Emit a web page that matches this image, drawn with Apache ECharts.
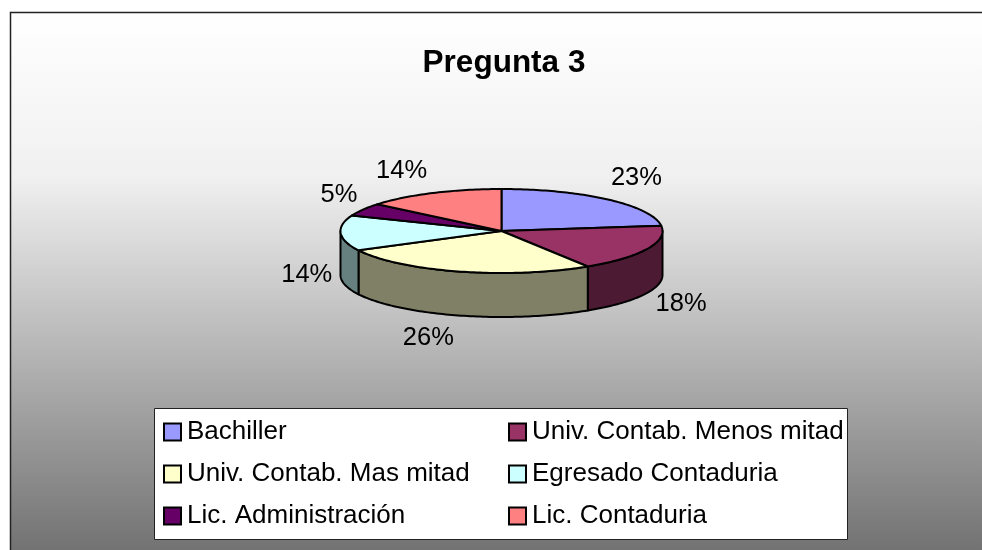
<!DOCTYPE html>
<html><head><meta charset="utf-8">
<style>html,body{margin:0;padding:0;background:#fff}#c{width:982px;height:550px}</style>
<script src="https://cdn.jsdelivr.net/npm/echarts@6/dist/echarts.min.js"></script>
</head><body><div id="c"></div>
<script>
const categories = ['Bachiller','Univ. Contab. Menos mitad','Univ. Contab. Mas mitad','Egresado Contaduria','Lic. Administración','Lic. Contaduria'];
const shares = [23,18,26.4,13.6,5,14];
const topColors = ['#9999FF','#993366','#FFFFCC','#CCFFFF','#660066','#FF8080'];
const wallColors = ['#4D4D80','#4D1A33','#808066','#668080','#330033','#804040'];

// 3D pie layout
const CX = 501.5, CY = 231, RX = 161, RY = 42, DEPTH = 44;
const LABEL_RX = 204, LABEL_RY = 72;
const labelNudge = [[0,1],[-5,-2],[-20,-7],[9,-4],[13,1],[-13,5]];
const FONT = '"Liberation Sans", Arial, sans-serif';

const total = shares.reduce((a,b)=>a+b,0);
const bounds = [0];
shares.forEach(v => bounds.push(bounds[bounds.length-1] + v/total*Math.PI*2));

function pt(t, dy){ return [CX + RX*Math.sin(t), CY - RY*Math.cos(t) + (dy||0)]; }
function arc(a, b, dy){
  const n = Math.max(2, Math.ceil(Math.abs(b-a)/0.02)), out = [];
  for(let i=0;i<=n;i++) out.push(pt(a+(b-a)*i/n, dy));
  return out;
}

function renderSlice(i){
  return function(params, api){
    const a = bounds[i], b = bounds[i+1], children = [];
    const wa = Math.max(a, Math.PI/2), wb = Math.min(b, Math.PI*1.5);
    const style = {stroke:'#000', lineWidth:2, lineJoin:'round'};
    if(wb > wa){
      children.push({type:'polygon', z2:1, shape:{points:arc(wa,wb,0).concat(arc(wb,wa,DEPTH))},
        style:Object.assign({fill:wallColors[i]},style)});
    }
    children.push({type:'polygon', z2:2, shape:{points:[[CX,CY]].concat(arc(a,b,0))},
      style:Object.assign({fill:topColors[i]},style)});
    const m = (a+b)/2;
    const wallDrop = Math.cos(m) < 0.2 ? DEPTH : 0;
    children.push({type:'text', z2:3, style:{
      text: Math.round(api.value(0)/total*100)+'%',
      x: CX + LABEL_RX*Math.sin(m) + labelNudge[i][0],
      y: CY - LABEL_RY*Math.cos(m) + wallDrop + labelNudge[i][1],
      align:'center', verticalAlign:'middle', fill:'#000',
      fontSize:25.5, fontFamily:FONT
    }});
    return {type:'group', children};
  };
}

const series = categories.map((name,i)=>({
  type:'custom', name, coordinateSystem:'none',
  itemStyle:{color:topColors[i]},
  renderItem:renderSlice(i), data:[[shares[i]]], animation:false, silent:true
}));

function legend(left, items){
  return {orient:'vertical', left, top:414, itemWidth:17, itemHeight:17, itemGap:6, padding:0,
    icon:'rect', selectedMode:false, data:items,
    itemStyle:{borderColor:'#000', borderWidth:2},
    textStyle:{fontFamily:FONT, fontSize:26, lineHeight:26, color:'#000', padding:[0,0,10,1]}};
}

const chart = echarts.init(document.getElementById('c'), null, {renderer:'canvas'});
chart.setOption({
  animation:false,
  backgroundColor:'#fff',
  title:{text:'Pregunta 3', left:499, top:42, textAlign:'center',
    textStyle:{fontFamily:FONT, fontSize:31.5, fontWeight:'bold', color:'#000'}},
  graphic:[
    {type:'rect', z:-2, shape:{x:10.5,y:12.5,width:985,height:550},
      style:{stroke:'#222', lineWidth:1.5,
        fill:new echarts.graphic.LinearGradient(0,0,0,1,[{offset:0,color:'#ffffff'},{offset:0.3,color:'#f0f0f0'},{offset:1,color:'#6e6e6e'}])}},
    {type:'rect', z:-1, shape:{x:154.5,y:408.5,width:693,height:131},
      style:{fill:'#fff', stroke:'#222', lineWidth:1}}
  ],
  legend:[
    legend(163,[categories[0],categories[2],categories[4]]),
    legend(508,[categories[1],categories[3],categories[5]])
  ],
  series
});
</script></body></html>
